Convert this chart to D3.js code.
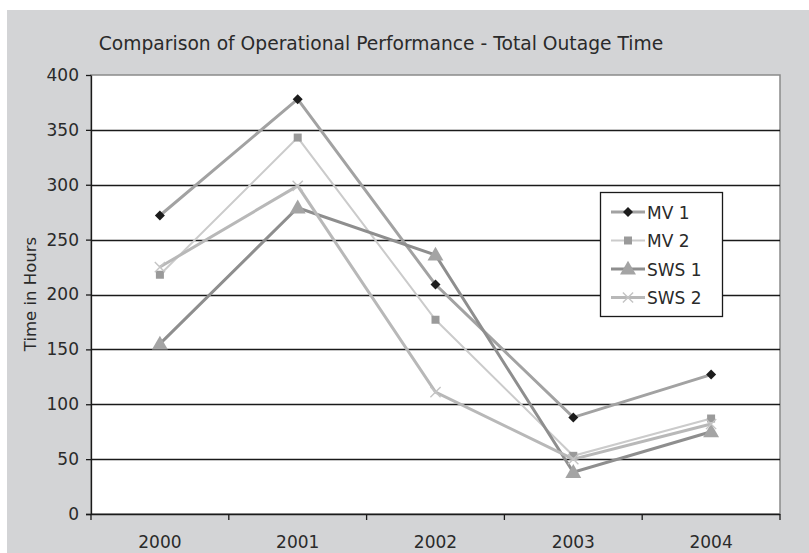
<!DOCTYPE html>
<html>
<head>
<meta charset="utf-8">
<script src="https://cdn.jsdelivr.net/npm/d3@7"></script>
<style>
  html, body { margin: 0; padding: 0; background: #fff; }
  svg { display: block; font-family: "DejaVu Sans", sans-serif; }
</style>
</head>
<body>
<svg id="chart" width="809" height="553"></svg>
<script>
// Total outage time (hours) per year for each unit
const years = ["2000", "2001", "2002", "2003", "2004"];
const mv1  = [272, 378, 209, 88, 127];
const mv2  = [218, 343, 177, 53, 87];
const sws1 = [155, 279, 236, 38, 75];
const sws2 = [225, 299, 111, 50, 82];
const yTicks = [0, 50, 100, 150, 200, 250, 300, 350, 400];

const series = [
  { name: "MV 1",  values: mv1,  line: "#a2a2a2", width: 3, marker: "diamond",  fill: "#1c1c1c" },
  { name: "MV 2",  values: mv2,  line: "#cbcbcb", width: 2, marker: "square",   fill: "#9a9a9a" },
  { name: "SWS 1", values: sws1, line: "#8e8e8e", width: 3, marker: "triangle", fill: "#a4a4a4" },
  { name: "SWS 2", values: sws2, line: "#b8b8b8", width: 3, marker: "cross",    fill: "#c4c4c4" }
];

const svg = d3.select("#chart");
const W = 809, H = 553;
const textColor = "#2a2a2a";

// grey chart background
svg.append("rect").attr("x", 7).attr("y", 10).attr("width", W - 7).attr("height", H - 10).attr("fill", "#d3d4d6");

const plot = { left: 91, right: 780, top: 75, bottom: 514 };

const x = d3.scaleBand().domain(years).range([plot.left, plot.right]);
const y = d3.scaleLinear().domain([0, 400]).range([plot.bottom, plot.top]);

// plot area
svg.append("rect")
  .attr("x", plot.left).attr("y", plot.top)
  .attr("width", plot.right - plot.left).attr("height", plot.bottom - plot.top)
  .attr("fill", "#fff").attr("stroke", "#8a8a8a").attr("stroke-width", 1.5);

// horizontal gridlines
svg.append("g").selectAll("line").data(yTicks.filter(d => d > 0 && d < 400)).join("line")
  .attr("x1", plot.left).attr("x2", plot.right)
  .attr("y1", d => Math.round(y(d)) + 0.5).attr("y2", d => Math.round(y(d)) + 0.5)
  .attr("stroke", "#1a1a1a").attr("stroke-width", 1.3);

// y axis
const yAxis = svg.append("g")
  .attr("transform", `translate(${plot.left},0)`)
  .call(d3.axisLeft(y).tickValues(yTicks).tickSize(5).tickPadding(7).tickSizeOuter(0));
yAxis.select(".domain").attr("stroke", "#1a1a1a").attr("stroke-width", 1.3);
yAxis.selectAll(".tick line").attr("stroke", "#1a1a1a").attr("stroke-width", 1.3);
yAxis.selectAll("text").attr("font-size", 17).attr("fill", textColor)
  .style("font-family", "'DejaVu Sans', sans-serif");

// x axis with ticks at category boundaries
const xAxisG = svg.append("g").attr("transform", `translate(0,${plot.bottom})`);
xAxisG.append("line").attr("x1", plot.left - 5).attr("x2", plot.right)
  .attr("y1", 0.5).attr("y2", 0.5).attr("stroke", "#1a1a1a").attr("stroke-width", 1.3);
const bounds = years.map(d => x(d)).concat([x(years[years.length - 1]) + x.bandwidth()]);
xAxisG.selectAll("line.tk").data(bounds).join("line").attr("class", "tk")
  .attr("x1", d => d).attr("x2", d => d).attr("y1", 0).attr("y2", 6)
  .attr("stroke", "#1a1a1a").attr("stroke-width", 1.3);
xAxisG.selectAll("text").data(years).join("text")
  .attr("x", d => x(d) + x.bandwidth() / 2).attr("y", 34)
  .attr("text-anchor", "middle").attr("font-size", 17).attr("fill", textColor)
  .text(d => d);

// title
svg.append("text").attr("x", 381).attr("y", 50).attr("text-anchor", "middle")
  .attr("font-size", 18.7).attr("fill", textColor)
  .text("Comparison of Operational Performance - Total Outage Time");

// y label
svg.append("text").attr("transform", "translate(36,294) rotate(-90)")
  .attr("text-anchor", "middle").attr("font-size", 16.5).attr("fill", textColor)
  .text("Time in Hours");

const cx = d => x(d) + x.bandwidth() / 2;
const line = d3.line().x((v, i) => cx(years[i])).y(v => y(v));

function drawMarker(g, s, px, py) {
  if (s.marker === "diamond") {
    // square turned 45 degrees
    g.append("path").attr("d", d3.symbol(d3.symbolSquare, 50)())
      .attr("transform", `translate(${px},${py}) rotate(45)`).attr("fill", s.fill);
  } else if (s.marker === "square") {
    g.append("path").attr("d", d3.symbol(d3.symbolSquare, 64)())
      .attr("transform", `translate(${px},${py})`).attr("fill", s.fill);
  } else if (s.marker === "triangle") {
    g.append("path").attr("d", d3.symbol(d3.symbolTriangle, 110)())
      .attr("transform", `translate(${px},${py + 1})`).attr("fill", s.fill);
  } else {
    g.append("path").attr("d", d3.symbol(d3.symbolX, 70)())
      .attr("transform", `translate(${px},${py})`)
      .attr("fill", "none").attr("stroke", s.fill).attr("stroke-width", 1.4);
  }
}

// series lines and markers
series.forEach(s => {
  const g = svg.append("g");
  g.append("path").datum(s.values).attr("d", line)
    .attr("fill", "none").attr("stroke", s.line).attr("stroke-width", s.width)
    .attr("stroke-linejoin", "miter");
  s.values.forEach((v, i) => drawMarker(g, s, cx(years[i]), y(v)));
});

// legend
const lg = svg.append("g");
lg.append("rect").attr("x", 600.5).attr("y", 192.5).attr("width", 122).attr("height", 124)
  .attr("fill", "#fff").attr("stroke", "#1a1a1a").attr("stroke-width", 1.3);
series.forEach((s, i) => {
  const ly = 212 + i * 28.5;
  lg.append("line").attr("x1", 611).attr("x2", 645).attr("y1", ly).attr("y2", ly)
    .attr("stroke", s.line).attr("stroke-width", s.width);
  drawMarker(lg, s, 628, ly);
  lg.append("text").attr("x", 647).attr("y", ly + 6.5).attr("font-size", 17).attr("fill", textColor)
    .text(s.name);
});
</script>
</body>
</html>
